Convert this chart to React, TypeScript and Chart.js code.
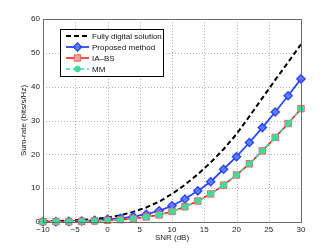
import React, { useEffect, useRef } from "react";
import { Chart, registerables } from "chart.js";

Chart.register(...registerables);

const snr = [-10, -8, -6, -4, -2, 0, 2, 4, 6, 8, 10, 12, 14, 16, 18, 20, 22, 24, 26, 28, 30];
const fullyDigital = [0.2, 0.3, 0.4, 0.6, 0.9, 1.3, 2.0, 3.0, 4.3, 6.0, 8.3, 11.0, 14.1, 17.6, 21.5, 26.0, 31.2, 36.6, 42.0, 47.2, 52.5];
const proposed = [0.1, 0.1, 0.2, 0.3, 0.5, 0.8, 1.1, 1.6, 2.3, 3.3, 4.8, 6.8, 9.2, 11.9, 15.6, 19.3, 23.5, 27.9, 32.5, 37.3, 42.3];
const iaBs = [0.1, 0.1, 0.1, 0.2, 0.3, 0.5, 0.7, 1.0, 1.5, 2.1, 3.1, 4.5, 6.2, 8.3, 10.9, 13.9, 17.2, 21.0, 25.0, 29.1, 33.5];
const mm = [0.1, 0.1, 0.1, 0.2, 0.3, 0.5, 0.7, 1.0, 1.5, 2.1, 3.1, 4.5, 6.2, 8.3, 10.9, 13.9, 17.2, 21.0, 25.0, 29.1, 33.5];
const seriesNames = ["Fully digital solution", "Proposed method", "IA\u2013BS", "MM"];
const xTitle = "SNR (dB)";
const yTitle = "Sum-rate (bits/s/Hz)";

const FONT = "'Liberation Sans', Arial, sans-serif";

const pts = (ys: number[]) => snr.map((x, i) => ({ x, y: ys[i] }));

function drawMarker(ctx: CanvasRenderingContext2D, style: string, x: number, y: number, r: number, fill: string, stroke: string, lw: number) {
  ctx.save();
  ctx.fillStyle = fill;
  ctx.strokeStyle = stroke;
  ctx.lineWidth = lw;
  ctx.setLineDash([]);
  ctx.beginPath();
  if (style === "rectRot") {
    ctx.moveTo(x, y - r);
    ctx.lineTo(x + r, y);
    ctx.lineTo(x, y + r);
    ctx.lineTo(x - r, y);
    ctx.closePath();
  } else if (style === "rect") {
    const s = r * Math.SQRT1_2;
    ctx.rect(x - s, y - s, 2 * s, 2 * s);
  } else {
    ctx.arc(x, y, r, 0, Math.PI * 2);
  }
  ctx.fill();
  ctx.stroke();
  ctx.restore();
}

const gridPlugin = {
  id: "dottedGrid",
  beforeDatasetsDraw(chart: any) {
    const ctx: CanvasRenderingContext2D = chart.ctx;
    const a = chart.chartArea;
    const xs = chart.scales.x;
    const ys = chart.scales.y;
    ctx.save();
    ctx.strokeStyle = "#b4b4b4";
    ctx.lineWidth = 1;
    ctx.setLineDash([1, 2]);
    xs.ticks.forEach((t: any) => {
      const px = Math.round(xs.getPixelForValue(t.value)) + 0.5;
      if (px <= a.left + 1 || px >= a.right - 1) return;
      ctx.beginPath();
      ctx.moveTo(px, a.top);
      ctx.lineTo(px, a.bottom);
      ctx.stroke();
    });
    ys.ticks.forEach((t: any) => {
      const py = Math.round(ys.getPixelForValue(t.value)) + 0.5;
      if (py <= a.top + 1 || py >= a.bottom - 1) return;
      ctx.beginPath();
      ctx.moveTo(a.left, py);
      ctx.lineTo(a.right, py);
      ctx.stroke();
    });
    ctx.restore();
  },
};

const framePlugin = {
  id: "frameLegend",
  afterDraw(chart: any) {
    const ctx: CanvasRenderingContext2D = chart.ctx;
    const a = chart.chartArea;
    ctx.save();
    ctx.strokeStyle = "#6a6a6a";
    ctx.lineWidth = 1;
    ctx.setLineDash([]);
    ctx.strokeRect(Math.round(a.left) + 0.5, Math.round(a.top) + 0.5, Math.round(a.right - a.left), Math.round(a.bottom - a.top));
    // legend box
    const lx = 60.5, ly = 29.5, lw = 103, lh = 47;
    ctx.fillStyle = "#ffffff";
    ctx.fillRect(lx, ly, lw, lh);
    ctx.strokeStyle = "#000000";
    ctx.strokeRect(lx, ly, lw, lh);
    const ds = chart.data.datasets;
    [0, 1, 2, 3].forEach((i, row) => {
      const d = ds[i];
      const y = 36 + row * 11;
      ctx.save();
      ctx.strokeStyle = d.borderColor;
      ctx.lineWidth = d.borderWidth;
      ctx.setLineDash(d.borderDash || []);
      ctx.beginPath();
      ctx.moveTo(66, y);
      ctx.lineTo(89, y);
      ctx.stroke();
      ctx.restore();
      if (d.pointRadius > 0) {
        drawMarker(ctx, d.pointStyle, 77.5, y, d.pointRadius, d.pointBackgroundColor, d.pointBorderColor, d.pointBorderWidth);
      }
      ctx.fillStyle = "#111";
      ctx.font = `8px ${FONT}`;
      ctx.textBaseline = "middle";
      ctx.textAlign = "left";
      ctx.fillText(seriesNames[i], 92, y + 0.5);
    });
    ctx.restore();
  },
};

export default function App() {
  const ref = useRef<HTMLCanvasElement>(null);
  useEffect(() => {
    if (!ref.current) return;
    const chart = new Chart(ref.current, {
      type: "line",
      data: {
        datasets: [
          {
            label: seriesNames[0],
            data: pts(fullyDigital),
            borderColor: "#000000",
            borderWidth: 2,
            borderDash: [5, 3],
            pointRadius: 0,
            pointStyle: "circle",
            pointBackgroundColor: "#000",
            pointBorderColor: "#000",
            pointBorderWidth: 0,
            order: 3,
            clip: false,
          } as any,
          {
            label: seriesNames[1],
            data: pts(proposed),
            borderColor: "#2a46ff",
            borderWidth: 1.8,
            pointRadius: 4,
            pointStyle: "rectRot",
            pointBackgroundColor: "rgba(90,120,255,0.85)",
            pointBorderColor: "#2a46ff",
            pointBorderWidth: 1.5,
            order: 2,
            clip: false,
          } as any,
          {
            label: seriesNames[2],
            data: pts(iaBs),
            borderColor: "#ff1a1a",
            borderWidth: 1.6,
            pointRadius: 4.5,
            pointStyle: "rect",
            pointBackgroundColor: "#f3a3a0",
            pointBorderColor: "#f05a5a",
            pointBorderWidth: 1,
            order: 1,
            clip: false,
          } as any,
          {
            label: seriesNames[3],
            data: pts(mm),
            borderColor: "#3ddc9c",
            borderWidth: 1.6,
            borderDash: [4, 3],
            pointRadius: 2.8,
            pointStyle: "circle",
            pointBackgroundColor: "#3ddc9c",
            pointBorderColor: "#3ddc9c",
            pointBorderWidth: 1,
            order: 0,
            clip: false,
          } as any,
        ],
      },
      options: {
        responsive: false,
        animation: false,
        events: [],
        layout: { padding: { top: 19, right: 31, left: 0, bottom: 0 } },
        plugins: { legend: { display: false }, tooltip: { enabled: false } },
        scales: {
          x: {
            type: "linear",
            min: -10,
            max: 30,
            afterFit: (s: any) => { s.height = 28; },
            ticks: {
              stepSize: 5,
              padding: 3,
              color: "#222",
              font: { family: FONT, size: 8 },
              maxRotation: 0,
              callback: (v: any) => (v < 0 ? "\u2212" + Math.abs(v) : String(v)),
            },
            grid: { display: false, drawTicks: false },
            border: { display: false },
            title: { display: true, text: xTitle, color: "#222", font: { family: FONT, size: 8 }, padding: { top: 0, bottom: 7 } },
          },
          y: {
            min: 0,
            max: 60,
            afterFit: (s: any) => { s.width = 43; },
            ticks: {
              stepSize: 10,
              padding: 3,
              color: "#222",
              font: { family: FONT, size: 8 },
            },
            grid: { display: false, drawTicks: false },
            border: { display: false },
            title: { display: true, text: yTitle, color: "#222", font: { family: FONT, size: 8 }, padding: { top: 19, bottom: 0 } },
          },
        },
      },
      plugins: [gridPlugin, framePlugin],
    } as any);
    return () => chart.destroy();
  }, []);
  return (
    <div style={{ position: "fixed", left: 0, top: 0, width: 332, height: 250, background: "#fff" }}>
      <canvas ref={ref} width={332} height={250} style={{ display: "block" }} />
    </div>
  );
}
